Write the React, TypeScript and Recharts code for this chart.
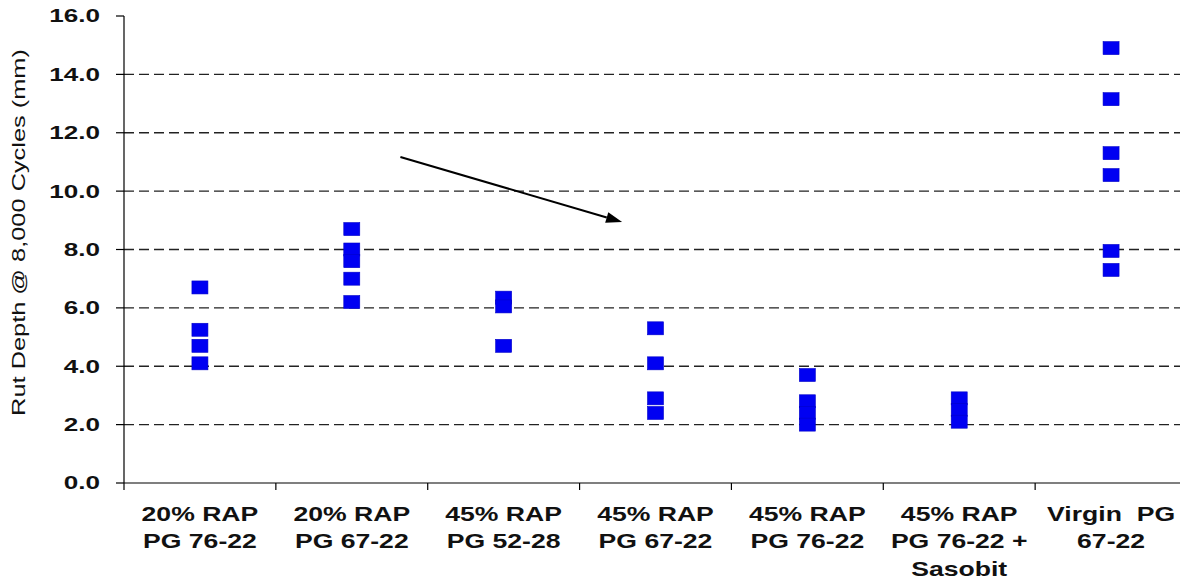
import { ScatterChart, Scatter, XAxis, YAxis, CartesianGrid, ReferenceLine } from "recharts";

// mix labels (two or three lines each)
const CATEGORIES: string[][] = [
  ["20% RAP", "PG 76-22"],
  ["20% RAP", "PG 67-22"],
  ["45% RAP", "PG 52-28"],
  ["45% RAP", "PG 67-22"],
  ["45% RAP", "PG 76-22"],
  ["45% RAP", "PG 76-22 +", "Sasobit"],
  ["Virgin  PG", "67-22"],
];

// rut depth readings (mm) per mix
const RAP20_PG7622 = [6.7, 5.25, 4.7, 4.1];
const RAP20_PG6722 = [8.7, 8.0, 7.6, 7.0, 6.2];
const RAP45_PG5228 = [6.35, 6.05, 4.7];
const RAP45_PG6722 = [5.3, 4.1, 2.9, 2.4];
const RAP45_PG7622 = [3.7, 2.8, 2.4, 2.0];
const RAP45_SASOBIT = [2.9, 2.5, 2.1];
const VIRGIN_PG6722 = [14.9, 13.15, 11.3, 10.55, 7.95, 7.3];

const SERIES = [
  RAP20_PG7622, RAP20_PG6722, RAP45_PG5228, RAP45_PG6722,
  RAP45_PG7622, RAP45_SASOBIT, VIRGIN_PG6722,
];

const Y_TICKS = [0, 2, 4, 6, 8, 10, 12, 14, 16];
const GRID_VALUES = [2, 4, 6, 8, 10, 12, 14];

// arrow annotation, in data units
const ARROW = [
  { x: 2.32, y: 11.17 },
  { x: 3.78, y: 8.94 },
];

const FONT = "'Liberation Sans', Arial, sans-serif";
const BLUE = "#0000F2";

const points = SERIES.flatMap((vals, i) => vals.map((v) => ({ x: i + 1, y: v })));
const centers = CATEGORIES.map((_, i) => i + 1);
const xTicks = [0.5, ...centers.flatMap((c) => [c, c + 0.5])];

function XTick(props: any) {
  const { x, y, payload } = props;
  const v = payload.value;
  if (!Number.isInteger(v)) {
    return <line x1={x} x2={x} y1={y - 8} y2={y - 1} stroke="#000" strokeWidth={1.2} />;
  }
  const lines = CATEGORIES[v - 1];
  return (
    <g transform={`translate(${x},${y}) scale(1.33,1)`}>
      {lines.map((t, i) => (
        <text
          key={i}
          x={0}
          y={30 + i * 27.5}
          textAnchor="middle"
          fontFamily={FONT}
          fontWeight="bold"
          fontSize={20}
          fill="#111"
          style={{ whiteSpace: "pre" }}
        >
          {t}
        </text>
      ))}
    </g>
  );
}

function YTick(props: any) {
  const { x, y, payload } = props;
  return (
    <g transform={`translate(${x},${y}) scale(1.45,1)`}>
      <text textAnchor="end" dy="0.36em" fontFamily={FONT} fontWeight="bold" fontSize={18} fill="#111">
        {Number(payload.value).toFixed(1)}
      </text>
    </g>
  );
}

function YLabel(props: any) {
  const vb = props.viewBox || { x: 0, y: 0, width: 0, height: 0 };
  const cx = vb.x + 19;
  const cy = vb.y + vb.height / 2 - 17;
  return (
    <g transform={`translate(${cx},${cy}) rotate(-90) scale(1.45,1)`}>
      <text textAnchor="middle" dy="0.36em" fontFamily={FONT} fontSize={17.5} fill="#111">
        Rut Depth @ 8,000 Cycles (mm)
      </text>
    </g>
  );
}

function Square(props: any) {
  const { cx, cy } = props;
  return <rect x={cx - 8} y={cy - 6.5} width={16} height={13} fill={BLUE} stroke="#0000c8" strokeWidth={0.6} />;
}

function Arrow(props: any) {
  const { x1, y1, x2, y2 } = props;
  const ang = Math.atan2(y2 - y1, x2 - x1);
  const len = 16;
  const half = 5.5;
  const bx = x2 - len * Math.cos(ang);
  const by = y2 - len * Math.sin(ang);
  const px = -Math.sin(ang) * half;
  const py = Math.cos(ang) * half;
  return (
    <g>
      <line x1={x1} y1={y1} x2={bx} y2={by} stroke="#000" strokeWidth={2} />
      <polygon points={`${x2},${y2} ${bx + px},${by + py} ${bx - px},${by - py}`} fill="#000" />
    </g>
  );
}

export default function App() {
  return (
    <div style={{ position: "fixed", left: 0, top: 0, width: 1180, height: 579, overflow: "hidden", background: "#fff" }}>
      <ScatterChart width={1200} height={579} margin={{ top: 16, right: 13, bottom: 0, left: 0 }}>
        <CartesianGrid
          vertical={false}
          horizontalValues={GRID_VALUES}
          stroke="#222"
          strokeWidth={1.3}
          strokeDasharray="10 5"
        />
        <XAxis
          type="number"
          dataKey="x"
          domain={[0.5, 7.5]}
          ticks={xTicks}
          interval={0}
          height={96}
          tickLine={false}
          axisLine={{ stroke: "#000", strokeWidth: 1.2 }}
          tick={<XTick />}
          allowDataOverflow
        />
        <YAxis
          type="number"
          dataKey="y"
          domain={[0, 16]}
          ticks={Y_TICKS}
          interval={0}
          width={124}
          tickSize={8}
          tickMargin={16}
          tickLine={{ stroke: "#000", strokeWidth: 1.2 }}
          axisLine={{ stroke: "#000", strokeWidth: 1.2 }}
          tick={<YTick />}
          label={<YLabel />}
        />
        <Scatter data={points} shape={<Square />} isAnimationActive={false} />
        <ReferenceLine segment={ARROW} shape={<Arrow />} ifOverflow="visible" />
      </ScatterChart>
    </div>
  );
}
